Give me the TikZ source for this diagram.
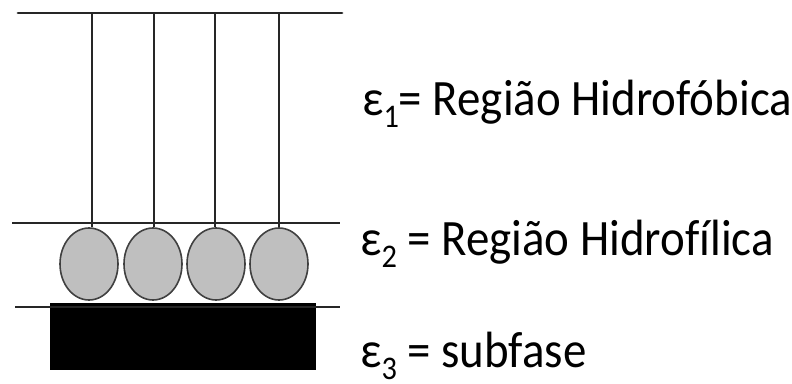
\documentclass[tikz,border=0pt]{standalone}
\usepackage{fontspec}
\setmainfont{Carlito}[Ligatures=NoCommon]
\usetikzlibrary{shapes.geometric}
\begin{document}
\begin{tikzpicture}[x=1pt,y=-1pt,
  layerline/.style={line width=2.8pt, draw=black!85},
  stalk/.style={line width=2.8pt, draw=black!85},
  head/.style={ellipse, draw=black!75, line width=1.6pt, fill=black!25,
    minimum width=58pt, minimum height=72pt, inner sep=0pt},
  label/.style={anchor=base west, inner sep=0pt,
    font=\fontsize{51}{60}\selectfont}]
\useasboundingbox (0,0) rectangle (792,383);

% subphase block
\fill[black] (50,303) rectangle (316,370);

% interface lines
\coordinate (topL) at (18,13);   \coordinate (topR) at (342,13);
\coordinate (midL) at (12,223);  \coordinate (midR) at (340,223);
\coordinate (botL) at (15,307);  \coordinate (botR) at (340,307);
\draw[layerline, line cap=round] (topL) -- (topR);
\draw[layerline] (midL) -- (midR);
\draw[layerline] (botL) -- (botR);

% polar heads
\node[head] (h1) at (89,264) {};
\node[head] (h2) at (153,264) {};
\node[head] (h3) at (216,264) {};
\node[head] (h4) at (279,264) {};

% hydrophobic tails
\foreach \i/\x in {1/92,2/154,3/215,4/279} {
  \coordinate (t\i) at (\x,13);
  \draw[stalk] (t\i) -- (t\i |- h\i.north);
}

% region labels, set slightly condensed
\newcommand{\subidx}[1]{\raisebox{-0.24em}{\fontsize{33}{33}\selectfont #1}}
\newcommand{\narrow}[1]{\scalebox{0.92}[1]{#1}}
\node[label] (e1) at (362,115) {\narrow{ε\subidx{1}= Região Hidrofóbica}};
\node[label] (e2) at (360,255) {\narrow{ε\subidx{2} = Região Hidrofílica}};
\node[label] (e3) at (360,367) {\narrow{ε\subidx{3} = subfase}};
\end{tikzpicture}
\end{document}
